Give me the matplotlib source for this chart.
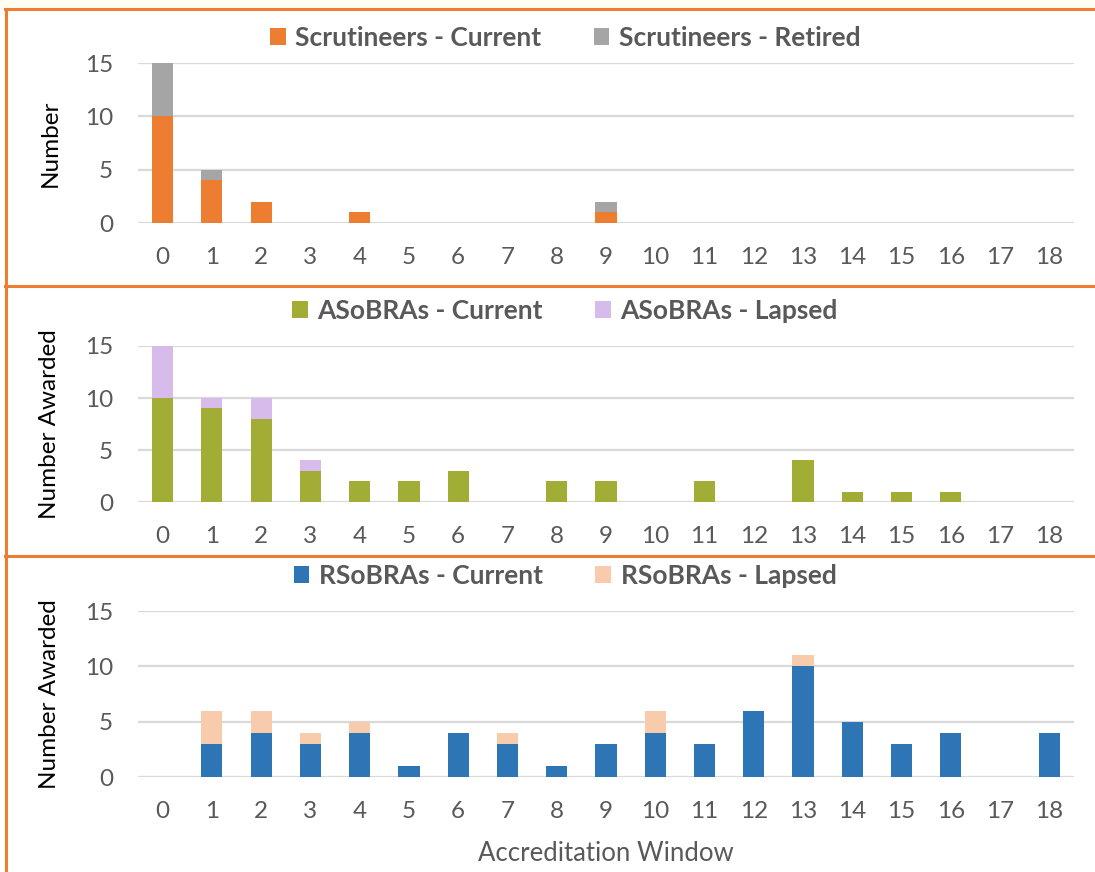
import matplotlib.pyplot as plt
from matplotlib.lines import Line2D
from matplotlib.patches import Rectangle

# Data
windows = list(range(0, 19))

scrut_current = [10, 4, 2, 0, 1, 0, 0, 0, 0, 1, 0, 0, 0, 0, 0, 0, 0, 0, 0]
scrut_retired = [5, 1, 0, 0, 0, 0, 0, 0, 0, 1, 0, 0, 0, 0, 0, 0, 0, 0, 0]

asobra_current = [10, 9, 8, 3, 2, 2, 3, 0, 2, 2, 0, 2, 0, 4, 1, 1, 1, 0, 0]
asobra_lapsed = [5, 1, 2, 1, 0, 0, 0, 0, 0, 0, 0, 0, 0, 0, 0, 0, 0, 0, 0]

rsobra_current = [0, 3, 4, 3, 4, 1, 4, 3, 1, 3, 4, 3, 6, 10, 5, 3, 4, 0, 4]
rsobra_lapsed = [0, 3, 2, 1, 1, 0, 0, 1, 0, 0, 2, 0, 0, 1, 0, 0, 0, 0, 0]

plt.rcParams["font.family"] = ["Lato", "DejaVu Sans"]

fig = plt.figure(figsize=(10.95, 8.72), dpi=100)
W, H = 1095.0, 872.0

# cream strip above the first frame
fig.patches.append(Rectangle((0, 1 - 9 / H), 1, 9 / H, transform=fig.transFigure,
                             facecolor="#fffdf2", edgecolor="none", zorder=0))

text_grey = "#595959"
grid_grey = "#d9d9d9"

panels = [
    # (top px, bottom px, current, other, labels, colours, ylabel, legend y px)
    (63, 223, scrut_current, scrut_retired,
     ["Scrutineers - Current", "Scrutineers - Retired"],
     ["#ed7d31", "#a5a5a5"], "Number", 38),
    (346, 502, asobra_current, asobra_lapsed,
     ["ASoBRAs - Current", "ASoBRAs - Lapsed"],
     ["#a2ad36", "#d7bbea"], "Number Awarded", 311),
    (611, 777, rsobra_current, rsobra_lapsed,
     ["RSoBRAs - Current", "RSoBRAs - Lapsed"],
     ["#2e75b6", "#f8cbad"], "Number Awarded", 576),
]

left_px, right_px = 138, 1074
bar_w = 0.43

for i, (top, bot, cur, oth, labels, cols, ylab, leg_y) in enumerate(panels):
    ax = fig.add_axes([left_px / W, 1 - bot / H, (right_px - left_px) / W, (bot - top) / H])
    ax.bar(windows, cur, width=bar_w, color=cols[0], label=labels[0], zorder=3)
    ax.bar(windows, oth, width=bar_w, bottom=cur, color=cols[1], label=labels[1], zorder=3)

    ax.set_xlim(-0.5, 18.5)
    ax.set_ylim(0, 15)
    ax.set_xticks(windows)
    ax.set_yticks([0, 5, 10, 15])
    ax.grid(axis="y", color=grid_grey, linewidth=1.6, zorder=0)
    for s in ax.spines.values():
        s.set_visible(False)
    ax.tick_params(length=0, labelsize=17.5, labelcolor=text_grey)
    ax.tick_params(axis="x", pad=17)
    ax.tick_params(axis="y", pad=18)

    ax.set_ylabel(ylab, fontsize=17.5, color="black", va="center")
    ax.yaxis.set_label_coords((50 - left_px) / (right_px - left_px), 0.5)

    ax.legend(loc="center", bbox_to_anchor=(565 / W, 1 - leg_y / H),
              bbox_transform=fig.transFigure, ncol=2, frameon=False,
              prop={"size": 19, "weight": "bold"}, labelcolor=text_grey,
              handlelength=0.6, handleheight=0.6, handletextpad=0.35,
              columnspacing=2.0)

    if i == 2:
        ax.set_xlabel("Accreditation Window", fontsize=18.5, color=text_grey, labelpad=14)

# orange panel frames
orange = "#ed7d31"
for y in [9, 286, 555.5]:
    fig.add_artist(Line2D([5 / W, 1], [1 - y / H, 1 - y / H], color=orange, linewidth=2.2))
fig.add_artist(Line2D([5.5 / W, 5.5 / W], [1 - 9 / H, 0], color=orange, linewidth=2.2))

fig.savefig("out.png", dpi=100, facecolor="white")
